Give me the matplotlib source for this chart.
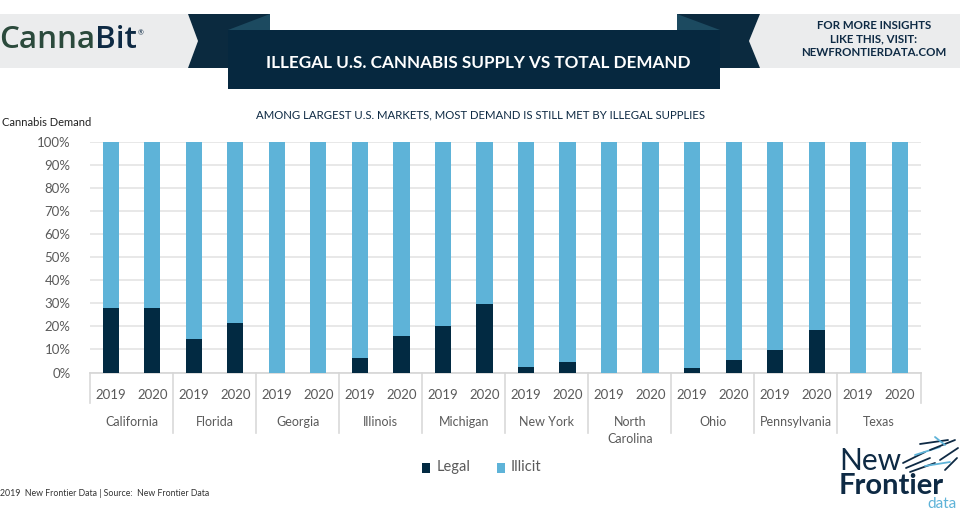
import matplotlib
matplotlib.use("Agg")
import matplotlib.pyplot as plt
from matplotlib.patches import Polygon, Rectangle
import matplotlib.transforms as mtransforms
import numpy as np

# ---------------- data ----------------
states = ["California", "Florida", "Georgia", "Illinois", "Michigan",
          "New York", "North\nCarolina", "Ohio", "Pennsylvania", "Texas"]
years = ["2019", "2020"]
legal = [28, 28, 14.5, 21.7, 0, 0, 6.3, 15.8, 20.2, 29.7,
         2.4, 4.6, 0, 0, 1.8, 5.3, 9.9, 18.6, 0, 0]
illicit = [100 - v for v in legal]
yticks = [0, 10, 20, 30, 40, 50, 60, 70, 80, 90, 100]

NAVY = "#022a42"
BLUE = "#5eb3d8"
GRAY_TXT = "#5a5a5a"
BAND = "#ebeced"

W, H = 960, 521
fig = plt.figure(figsize=(W / 100, H / 100), dpi=100)
plt.rcParams['font.family'] = ['Lato', 'DejaVu Sans']

def P(x, y):
    return (x / W, 1 - y / H)

def poly(pts, color, z=1):
    fig.add_artist(Polygon([P(*p) for p in pts], closed=True, transform=fig.transFigure,
                           facecolor=color, edgecolor='none', zorder=z))

# ---------------- header ----------------
poly([(0, 14), (188, 14), (198, 41), (188, 68), (0, 68)], BAND)
poly([(760, 14), (960, 14), (960, 68), (760, 68), (749, 41)], BAND)
# ribbon tails
poly([(188, 14), (270, 14), (270, 68), (188, 68), (198, 41)], "#0b2a3f", 2)
poly([(677, 14), (760, 14), (749, 41), (760, 68), (677, 68)], "#0b2a3f", 2)
# folds
poly([(228, 30), (270, 14), (270, 30)], "#1c4a60", 3)
poly([(677, 14), (720, 30), (677, 30)], "#1c4a60", 3)
# main banner
poly([(228, 30), (720, 30), (720, 89), (228, 89)], "#06283f", 4)
fig.text(*P(478, 63), "ILLEGAL U.S. CANNABIS SUPPLY VS TOTAL DEMAND", color="white",
         fontsize=12.3, fontweight="bold", ha="center", va="center", zorder=5)

# CannaBit logo
t1 = fig.text(*P(-1, 40), "Canna", color="#2b4a3c", fontsize=22.5, fontweight="semibold",
              ha="left", va="center", zorder=5, family=["Open Sans", "DejaVu Sans"])
fig.canvas.draw()
bb = t1.get_window_extent()
t2 = fig.text(bb.x1 / W, 1 - 40 / H, "Bit", color="#0e2a44", fontsize=22.5, fontweight="semibold",
              ha="left", va="center", zorder=5, family=["Open Sans", "DejaVu Sans"])
fig.canvas.draw()
bb2 = t2.get_window_extent()
fig.text(bb2.x1 / W + 0.001, 1 - 33 / H, "®", color="#0e2a44", fontsize=5,
         ha="left", va="center", zorder=5)

fig.text(*P(874, 39), "FOR MORE INSIGHTS\nLIKE THIS, VISIT:\nNEWFRONTIERDATA.COM",
         color="#0e2a44", fontsize=8.3, fontweight="bold", ha="center", va="center",
         linespacing=1.25, zorder=5)

# subtitle
fig.text(*P(480, 115), "AMONG LARGEST U.S. MARKETS, MOST DEMAND IS STILL MET BY ILLEGAL SUPPLIES",
         color="#0e2a44", fontsize=8.2, ha="center", va="center")
fig.text(*P(2, 122), "Cannabis Demand", color="#222222", fontsize=8, ha="left", va="center")

# ---------------- axes ----------------
left, right, top, bottom = 90, 920.5, 142.3, 372.5
ax = fig.add_axes([left / W, 1 - bottom / H, (right - left) / W, (bottom - top) / H])
x = np.arange(len(legal))
bw = 0.39
ax.bar(x, legal, bw, color=NAVY, zorder=3, label="Legal")
ax.bar(x, illicit, bw, bottom=legal, color=BLUE, zorder=3, label="Illicit")
ax.set_xlim(-0.5, len(legal) - 0.5)
ax.set_ylim(0, 100)
ax.set_yticks(yticks, [f"{v}%" for v in yticks])
ax.yaxis.grid(True, color="#e4e4e4", linewidth=1.2, zorder=0)
ax.tick_params(axis='y', length=0, pad=14, labelsize=9.5, labelcolor=GRAY_TXT)
for s in ["top", "right", "left"]:
    ax.spines[s].set_visible(False)
ax.spines["bottom"].set_color("#d6d6d6")
ax.spines["bottom"].set_linewidth(1.2)
ax.set_xticks(x, [years[i % 2] for i in x])
ax.tick_params(axis='x', length=0, pad=12, labelsize=9.5, labelcolor=GRAY_TXT)

trans = mtransforms.blended_transform_factory(ax.transData, ax.transAxes)
hpx = bottom - top
for i, st in enumerate(states):
    cx = 2 * i + 0.5
    if "\n" in st:
        ax.text(cx, -(415.5 - bottom) / hpx, st, transform=trans, ha="center", va="top",
                fontsize=9, color=GRAY_TXT, linespacing=1.55)
    else:
        ax.text(cx, -(422.5 - bottom) / hpx, st, transform=trans, ha="center", va="center",
                fontsize=9, color=GRAY_TXT)
for b in range(len(states) + 1):
    xb = 2 * b - 0.5
    ylow = -(403 - bottom) / hpx if b in (0, len(states)) else -(433 - bottom) / hpx
    ax.plot([xb, xb], [0, ylow], transform=trans, color="#d9d9d9", lw=1.2, clip_on=False)

# ---------------- legend ----------------
fig.add_artist(Rectangle(P(421.5, 473), 8.5 / W, 10.5 / H, transform=fig.transFigure,
                         facecolor=NAVY, edgecolor='none'))
fig.text(*P(437, 467), "Legal", color=GRAY_TXT, fontsize=10.5, ha="left", va="center")
fig.add_artist(Rectangle(P(496.5, 473), 8.5 / W, 10.5 / H, transform=fig.transFigure,
                         facecolor=BLUE, edgecolor='none'))
fig.text(*P(511, 467), "Illicit", color=GRAY_TXT, fontsize=10.5, ha="left", va="center")

# footer
fig.text(*P(0, 494), "2019  New Frontier Data | Source:  New Frontier Data", color="#333333",
         fontsize=6.3, ha="left", va="center")

# New Frontier logo
fig.text(*P(839, 461), "New", color="#0e2a44", fontsize=21.5, fontweight="normal",
         ha="left", va="center")
fig.text(*P(839, 485.5), "Frontier", color="#0e2a44", fontsize=21, fontweight="bold",
         ha="left", va="center")
fig.text(*P(957, 503.5), "data", color="#5eb3d8", fontsize=11, ha="right", va="center")
# stylised bird mark (feather strokes)
strokes = [(903, 463, 925, 452, "#0e2a44"), (906, 468, 930, 458, "#0e2a44"),
           (910, 472, 935, 463, "#0e2a44"), (915, 455, 940, 447, "#5eb3d8"),
           (920, 444, 948, 440, "#0e2a44"), (930, 450, 955, 440, "#0e2a44"),
           (935, 437, 945, 445, "#5eb3d8"), (940, 460, 958, 448, "#0e2a44"),
           (945, 470, 957, 458, "#0e2a44"), (925, 466, 950, 462, "#5eb3d8")]
for (x0, y0, x1, y1, c) in strokes:
    fig.add_artist(plt.Line2D([x0 / W, x1 / W], [1 - y0 / H, 1 - y1 / H], transform=fig.transFigure,
                              color=c, lw=1.3, solid_capstyle="round"))

fig.savefig("out.png", dpi=100)
